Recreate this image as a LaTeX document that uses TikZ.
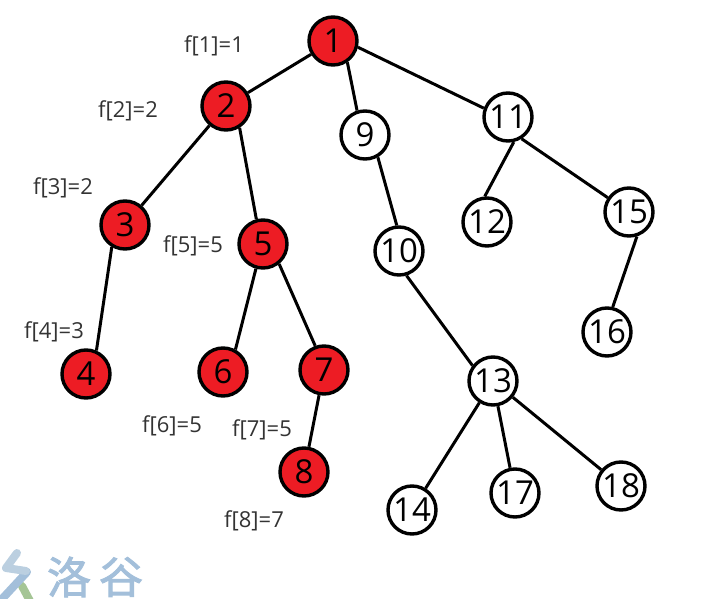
\documentclass[tikz,border=0pt]{standalone}
\usepackage{fontspec}
\setmainfont{Open Sans}
\newfontfamily\cjkfont{Noto Sans CJK SC}[FakeBold=2]
\definecolor{nodered}{HTML}{ED1C24}
\definecolor{logoblue}{HTML}{A3BFDA}
\definecolor{logopale}{HTML}{BBCFE0}
\definecolor{logogreen}{HTML}{A5C595}
\tikzset{
  vis/.style={circle,draw=black,line width=3.4pt,fill=nodered,minimum size=48pt,inner sep=0pt,font=\fontsize{33}{33}\selectfont},
  unvis/.style={vis,fill=white},
  edge/.style={black,line width=3pt},
  flabel/.style={inner sep=0pt,text=black!80,font=\fontsize{22}{22}\selectfont},
  logochar/.style={inner sep=0pt,text=logoblue,font=\fontsize{44}{44}\selectfont\cjkfont},
  logostroke/.style={line width=8pt,line cap=round,line join=round}
}
\begin{document}
\begin{tikzpicture}[x=1pt,y=-1pt]
\useasboundingbox (0,0) rectangle (710,599);

% Visited
\node[vis] (v1) at (333,41) {1};
\node[vis] (v2) at (226,106) {2};
\node[vis] (v3) at (125,225) {3};
\node[vis] (v4) at (86,374) {4};
\node[vis] (v5) at (263,244) {5};
\node[vis] (v6) at (223,372) {6};
\node[vis] (v7) at (324,370) {7};
\node[vis] (v8) at (304,472) {8};

% Not visited
\node[unvis] (v9) at (365,135) {9};
\node[unvis] (v10) at (399,251) {10};
\node[unvis] (v11) at (508,117) {11};
\node[unvis] (v12) at (487,222) {12};
\node[unvis] (v13) at (493,381) {13};
\node[unvis] (v14) at (412,510) {14};
\node[unvis] (v15) at (629,212) {15};
\node[unvis] (v16) at (607,332) {16};
\node[unvis] (v17) at (515,493) {17};
\node[unvis] (v18) at (621,486) {18};

% Edges
\draw[edge] (v1) -- (v2);
\draw[edge] (v1.-56) -- (v9.108);
\draw[edge] (v1.-14) -- (v11.160);
\draw[edge] (v2) -- (v3);
\draw[edge] (v2.-58) -- (v5.105);
\draw[edge] (v3.-121) -- (v4.66);
\draw[edge] (v5.-106) -- (v6.61);
\draw[edge] (v5.-51) -- (v7.110);
\draw[edge] (v7) -- (v8);
\draw[edge] (v9.-60) -- (v10.95);
\draw[edge] (v10.-73) -- (v13.143);
\draw[edge] (v11.-77) -- (v12.95);
\draw[edge] (v11.-58) -- (v15.146);
\draw[edge] (v15.-72) -- (v16.77);
\draw[edge] (v13) -- (v14);
\draw[edge] (v13) -- (v17);
\draw[edge] (v13) -- (v18);

% Names
\node[flabel] (f1) at (214,46) {f[1]=1};
\node[flabel] (f2) at (128,111) {f[2]=2};
\node[flabel] (f3) at (63,188) {f[3]=2};
\node[flabel] (f4) at (54,332) {f[4]=3};
\node[flabel] (f5) at (193,246) {f[5]=5};
\node[flabel] (f6) at (172,426) {f[6]=5};
\node[flabel] (f7) at (262,430) {f[7]=5};
\node[flabel] (f8) at (254,521) {f[8]=7};

% Logo
\begin{scope}
\clip (0,0) rectangle (710,599);
\draw[logostroke,logogreen] (22,586) -- (30,601);
\draw[logostroke,logoblue] (27,572) -- (2,599);
\draw[logostroke,logopale] (17,553) -- (6,568) -- (26,571);
\end{scope}
\node[logochar] (c1) at (69,577) {洛};
\node[logochar] (c2) at (121,577) {谷};
\end{tikzpicture}
\end{document}
